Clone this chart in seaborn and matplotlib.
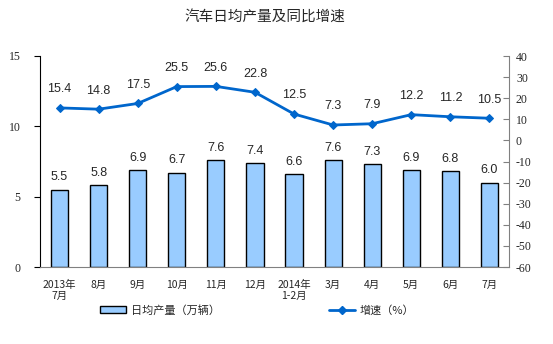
import numpy as np
import pandas as pd
import matplotlib
matplotlib.use("Agg")
import matplotlib.pyplot as plt
import seaborn as sns
from matplotlib.patches import Patch
from matplotlib.lines import Line2D

months = ["2013年\n7月", "8月", "9月", "10月", "11月", "12月", "2014年\n1-2月",
          "3月", "4月", "5月", "6月", "7月"]
daily_output = [5.5, 5.8, 6.9, 6.7, 7.6, 7.4, 6.6, 7.6, 7.3, 6.9, 6.8, 6.0]
growth_rate = [15.4, 14.8, 17.5, 25.5, 25.6, 22.8, 12.5, 7.3, 7.9, 12.2, 11.2, 10.5]
left_ticks = [0, 5, 10, 15]
right_ticks = list(range(-60, 41, 10))

sns.set_style("white")
plt.rcParams["font.family"] = ["Noto Sans CJK SC", "DejaVu Sans"]

BAR = "#99CCFF"
LINE = "#0066CC"
GRAY = "#808080"

df = pd.DataFrame({"month": months, "output": daily_output, "growth": growth_rate})

fig = plt.figure(figsize=(5.53, 3.44), dpi=100)
ax = fig.add_axes([40 / 553, 1 - 267 / 344, (509 - 40) / 553, (267 - 56) / 344])

sns.barplot(data=df, x="month", y="output", ax=ax, color=BAR, width=0.44,
            edgecolor="black", linewidth=1.0, saturation=1)
ax.set_ylim(0, 15)
ax.set_xlim(-0.5, len(months) - 0.5)
ax.set_yticks(left_ticks)
ax.set_xlabel("")
ax.set_ylabel("")

num_font = dict(family=["Liberation Serif", "DejaVu Serif"], size=8.5)
ax.set_yticklabels([str(t) for t in left_ticks], **num_font)
ax.tick_params(axis="y", direction="out", length=4, color="black", pad=10)
ax.set_xticks(range(len(months)))
ax.set_xticklabels(months, fontsize=7.5, linespacing=1.2)
ax.tick_params(axis="x", which="major", length=0, pad=9)
ax.set_xticks(np.arange(-0.5, len(months), 1), minor=True)
ax.tick_params(axis="x", which="minor", direction="out", length=3, color=GRAY)

ax.spines["top"].set_visible(False)
ax.spines["left"].set_color("black")
ax.spines["bottom"].set_color(GRAY)
ax.spines["right"].set_visible(False)

for i, v in enumerate(daily_output):
    ax.text(i, v + 0.45, f"{v:.1f}", ha="center", va="bottom",
            family=["Liberation Sans", "DejaVu Sans"], fontsize=9)

ax2 = ax.twinx()
sns.lineplot(x=np.arange(len(months)), y=growth_rate, ax=ax2, color=LINE,
             marker="D", markersize=4.5, markeredgecolor=LINE, linewidth=2)
ax2.set_ylim(-60, 40)
ax2.set_yticks(right_ticks)
ax2.set_yticklabels([str(t) for t in right_ticks], **num_font)
ax2.tick_params(axis="y", direction="in", length=4, color=GRAY, pad=5)
ax2.spines["right"].set_color(GRAY)
for s in ["top", "left", "bottom"]:
    ax2.spines[s].set_visible(False)

for i, v in enumerate(growth_rate):
    ax2.text(i, v + 6, f"{v:.1f}", ha="center", va="bottom",
             family=["Liberation Sans", "DejaVu Sans"], fontsize=9)

fig.text(265 / 553, 1 - 17 / 344, "汽车日均产量及同比增速", ha="center", va="center",
         fontsize=10.5)

handles = [Patch(facecolor=BAR, edgecolor="black", linewidth=1.0),
           Line2D([0], [0], color=LINE, marker="D", markersize=4.5, linewidth=2)]
labels = ["日均产量（万辆）", "增速（%）"]
fig.legend(handles, labels, loc="center", bbox_to_anchor=(257 / 553, 1 - 310 / 344),
           ncol=2, frameon=False, fontsize=8, columnspacing=9.8, handlelength=2.4,
           handletextpad=0.4)

fig.savefig("out.png", dpi=100, facecolor="white")
